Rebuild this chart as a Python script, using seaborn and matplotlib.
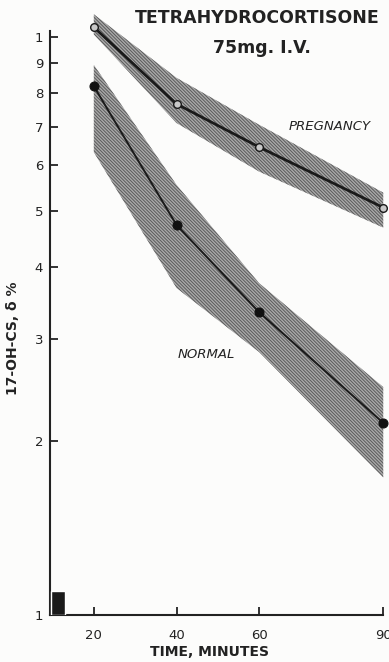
import numpy as np
import pandas as pd
import seaborn as sns
import matplotlib
matplotlib.use("Agg")
import matplotlib.pyplot as plt
from matplotlib.ticker import FixedLocator, FixedFormatter, NullLocator

# data (17-OH-CS, log scale)
times = [20, 40, 60, 90]
pregnancy_mean = [10.4, 7.66, 6.45, 5.07]
pregnancy_upper = [10.95, 8.5, 7.05, 5.38]
pregnancy_lower = [10.1, 7.1, 5.85, 4.68]
normal_mean = [8.22, 4.73, 3.34, 2.15]
normal_upper = [8.95, 5.55, 3.75, 2.48]
normal_lower = [6.32, 3.68, 2.85, 1.73]

# injection period marker (black block at the start)
inj_start = 9.6
inj_width = 3.4
inj_height = 0.1

y_ticks = [1, 2, 3, 4, 5, 6, 7, 8, 9, 10]
y_ticklabels = ["1", "2", "3", "4", "5", "6", "7", "8", "9", "1"]
x_ticks = [20, 40, 60, 90]
x_ticklabels = ["20", "40", "60", "90"]

df = pd.DataFrame({"time": times * 2,
                   "value": pregnancy_mean + normal_mean,
                   "group": ["PREGNANCY"] * 4 + ["NORMAL"] * 4})

sns.set_style("ticks")
plt.rcParams["font.family"] = ["DejaVu Sans"]
plt.rcParams["hatch.linewidth"] = 0.7

fig = plt.figure(figsize=(3.89, 6.62), dpi=100, facecolor="#fcfcfb")
ax = fig.add_axes([50 / 389, 47 / 662, 339 / 389, 615 / 662])
ax.set_facecolor("#fcfcfb")

# shaded ranges
band = dict(facecolor="#a9a9a9", edgecolor="#5a5a5a", hatch="\\" * 10, linewidth=0)
ax.fill_between(times, pregnancy_lower, pregnancy_upper, **band)
ax.fill_between(times, normal_lower, normal_upper, **band)

# mean curves
preg = df[df.group == "PREGNANCY"]
norm = df[df.group == "NORMAL"]
sns.lineplot(data=preg, x="time", y="value", ax=ax, color="#1a1a1a", lw=2.0,
             marker="o", markersize=5.5, markerfacecolor="#c8c8c8",
             markeredgecolor="#1a1a1a", markeredgewidth=1.0)
sns.lineplot(data=norm, x="time", y="value", ax=ax, color="#1a1a1a", lw=1.4,
             marker="o", markersize=6.5, markerfacecolor="#111111",
             markeredgecolor="#111111")

ax.bar(inj_start, inj_height, width=inj_width, bottom=1, align="edge",
       color="#1a1a1a", zorder=3)

ax.set_yscale("log")
ax.set_ylim(1, 11.59)
ax.set_xlim(9.4, 91.4)
ax.yaxis.set_major_locator(FixedLocator(y_ticks))
ax.yaxis.set_major_formatter(FixedFormatter(y_ticklabels))
ax.yaxis.set_minor_locator(NullLocator())
ax.set_xticks(x_ticks)
ax.set_xticklabels(x_ticklabels)

ax.tick_params(axis="both", direction="in", length=6, width=1.3,
               labelsize=9.5, colors="#222222")
ax.tick_params(axis="x", pad=10)
ax.tick_params(axis="y", pad=5)

for s in ["top", "right"]:
    ax.spines[s].set_visible(False)
ax.spines["left"].set_bounds(1, 10.25)
ax.spines["bottom"].set_bounds(9.4, 90)
ax.spines["left"].set_linewidth(1.5)
ax.spines["bottom"].set_linewidth(1.5)
ax.spines["left"].set_color("#222222")
ax.spines["bottom"].set_color("#222222")

ax.set_xlabel("")
ax.set_ylabel("17-OH-CS, δ %", fontsize=10, fontweight="bold", color="#222222")
ax.yaxis.set_label_coords(-0.088, 0.45)

fig.text(257.5 / 389, 1 - 18 / 662, "TETRAHYDROCORTISONE", ha="center", va="center",
         fontsize=12.5, fontweight="bold", color="#222222")
fig.text(262 / 389, 1 - 48 / 662, "75mg. I.V.", ha="center", va="center",
         fontsize=12.5, fontweight="bold", color="#222222")
fig.text(330 / 389, 1 - 127 / 662, "PREGNANCY", ha="center", va="center",
         fontsize=9.5, style="italic", color="#222222")
fig.text(206 / 389, 1 - 354 / 662, "NORMAL", ha="center", va="center",
         fontsize=9.5, style="italic", color="#222222")
fig.text(210 / 389, 1 - 652 / 662, "TIME, MINUTES", ha="center", va="center",
         fontsize=10, fontweight="bold", color="#222222")

fig.savefig("out.png", dpi=100, facecolor=fig.get_facecolor())
